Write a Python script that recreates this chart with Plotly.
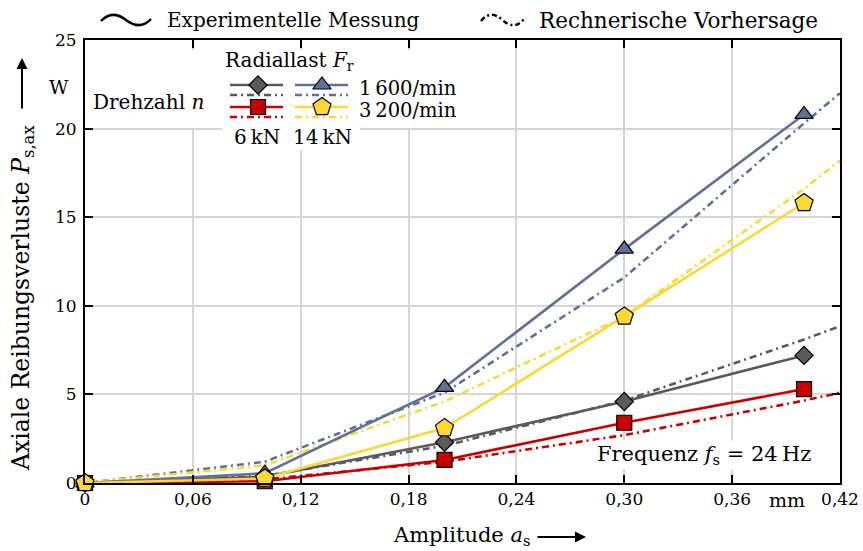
import plotly.graph_objects as go

# Messpunkte (Amplitude in mm, Reibungsverluste in W)
amplitude = [0.0, 0.1, 0.2, 0.3, 0.4]
mess_6kN_1600 = [0.0, 0.35, 2.3, 4.6, 7.2]
mess_14kN_1600 = [0.0, 0.55, 5.4, 13.2, 20.8]
mess_6kN_3200 = [0.0, 0.1, 1.3, 3.4, 5.3]
mess_14kN_3200 = [0.0, 0.25, 3.1, 9.4, 15.8]

# Rechnerische Vorhersage
amplitude_rechnung = [0.0, 0.1, 0.2, 0.3, 0.4, 0.42]
rech_6kN_1600 = [0.0, 0.4, 2.1, 4.65, 8.1, 8.85]
rech_14kN_1600 = [0.0, 1.2, 5.1, 11.6, 20.3, 22.0]
rech_6kN_3200 = [0.0, 0.2, 1.2, 2.7, 4.65, 5.1]
rech_14kN_3200 = [0.0, 1.0, 4.6, 9.4, 16.6, 18.2]

x_tickvals = [0, 0.06, 0.12, 0.18, 0.24, 0.30, 0.36, 0.42]
x_ticktext = ["0", "0,06", "0,12", "0,18", "0,24", "0,30", "0,36", "0,42"]
y_tickvals = [0, 5, 10, 15, 20, 25]
y_ticktext = ["0", "5", "10", "15", "20", "25"]

GRAU = "#5a5a5a"
BLAU = "#5f7199"
ROT = "#c80000"
GELB = "#fdd835"
DASHDOT = "7px,4px,2px,4px"
FONT = "DejaVu Serif"

# Plotbereich in Pixeln (für Beschriftungen außerhalb der Achsen)
W, H = 863, 551
L, R, T, B = 85, 23, 40, 68
PW, PH = W - L - R, H - T - B


def px(xp):
    return (xp - L) / PW


def py(yp):
    return (H - B - yp) / PH


serien = [
    (mess_6kN_1600, rech_6kN_1600, GRAU, "diamond", 14),
    (mess_14kN_1600, rech_14kN_1600, BLAU, "triangle-up", 16),
    (mess_6kN_3200, rech_6kN_3200, ROT, "square", 15),
    (mess_14kN_3200, rech_14kN_3200, GELB, "pentagon", 19),
]

fig = go.Figure()

for _, rech, farbe, _, _ in serien:
    fig.add_trace(go.Scatter(
        x=amplitude_rechnung, y=rech, mode="lines",
        line=dict(color=farbe, width=2.6, dash=DASHDOT),
        hoverinfo="skip",
    ))

for mess, _, farbe, symbol, groesse in serien:
    fig.add_trace(go.Scatter(
        x=amplitude, y=mess, mode="lines+markers",
        line=dict(color=farbe, width=2.6),
        marker=dict(symbol=symbol, size=groesse, color=farbe,
                    line=dict(color="black", width=1.2)),
        cliponaxis=False,
    ))

# Weißer Hintergrund der Legende im Diagramm (auf einer 0..1-Hilfsachse)
kasten_x = [88, 478, 478, 360, 360, 222, 222, 88, 88]
kasten_y = [50, 50, 128, 128, 150, 150, 128, 128, 50]
fig.add_trace(go.Scatter(
    x=[px(v) for v in kasten_x], y=[py(v) for v in kasten_y],
    mode="lines", fill="toself", fillcolor="white",
    line=dict(width=0, color="white"),
    xaxis="x2", yaxis="y2", hoverinfo="skip",
))

# Legendenzeichen
zeilen_y = [85, 95, 107, 117]
spalten = [(230, 283, 258), (295, 348, 322)]
legende = [
    (0, 0, GRAU, "solid", "diamond", 14),
    (0, 1, GRAU, DASHDOT, None, 0),
    (1, 0, BLAU, "solid", "triangle-up", 16),
    (1, 1, BLAU, DASHDOT, None, 0),
    (0, 2, ROT, "solid", "square", 15),
    (0, 3, ROT, DASHDOT, None, 0),
    (1, 2, GELB, "solid", "pentagon", 19),
    (1, 3, GELB, DASHDOT, None, 0),
]
for sp, ze, farbe, strich, symbol, groesse in legende:
    x0, x1, xm = spalten[sp]
    yy = py(zeilen_y[ze])
    fig.add_trace(go.Scatter(
        x=[px(x0), px(x1)], y=[yy, yy], mode="lines",
        line=dict(color=farbe, width=2.6, dash=strich),
        xaxis="x2", yaxis="y2", hoverinfo="skip",
    ))
    if symbol:
        fig.add_trace(go.Scatter(
            x=[px(xm)], y=[yy], mode="markers",
            marker=dict(symbol=symbol, size=groesse, color=farbe,
                        line=dict(color="black", width=1.2)),
            xaxis="x2", yaxis="y2", cliponaxis=False, hoverinfo="skip",
        ))

achse = dict(showline=True, linecolor="black", linewidth=2, mirror="ticks",
             ticks="inside", ticklen=8, tickwidth=1.5, tickcolor="black",
             showgrid=True, gridcolor="#d6d6d6", gridwidth=1.5, zeroline=False,
             automargin=False,
             tickfont=dict(family=FONT, size=17, color="black"))

fig.update_layout(
    width=W, height=H,
    margin=dict(l=L, r=R, t=T, b=B, autoexpand=False),
    plot_bgcolor="white", paper_bgcolor="white",
    showlegend=False,
    font=dict(family=FONT, size=20, color="black"),
    xaxis=dict(range=[0, 0.42], tickvals=x_tickvals, ticktext=x_ticktext,
               ticklabelstandoff=0, **achse),
    yaxis=dict(range=[0, 25], tickvals=y_tickvals, ticktext=y_ticktext,
               ticklabelstandoff=3, **achse),
    xaxis2=dict(overlaying="x", range=[0, 1], visible=False, fixedrange=True),
    yaxis2=dict(overlaying="y", range=[0, 1], visible=False, fixedrange=True),
)


def welle(x0, x1, y):
    # Tilde-förmiges Legendenzeichen aus zwei kubischen Bögen
    w = x1 - x0
    a = (x0, y + 1)
    m = (x0 + 0.5 * w, y)
    e = (x1, y - 1)
    c1 = (x0 + 0.15 * w, y - 7)
    c2 = (x0 + 0.32 * w, y - 7)
    c3 = (x0 + 0.68 * w, y + 7)
    c4 = (x0 + 0.85 * w, y + 7)
    pts = [a, c1, c2, m, c3, c4, e]
    p = [f"{px(q[0]):.5f},{py(q[1]):.5f}" for q in pts]
    return f"M{p[0]} C{p[1]} {p[2]} {p[3]} C{p[4]} {p[5]} {p[6]}"


fig.update_layout(shapes=[
    dict(type="path", xref="paper", yref="paper", path=welle(101, 151, 20),
         line=dict(color="black", width=2.5)),
    dict(type="path", xref="paper", yref="paper", path=welle(481, 524, 20),
         line=dict(color="black", width=2.5, dash="5px,3px,2px,3px")),
])


def text(t, x, y, xanchor="center", size=20, **kw):
    return dict(text=t, x=px(x), y=py(y), xref="paper", yref="paper",
                showarrow=False, xanchor=xanchor, yanchor="middle",
                font=dict(family=FONT, size=size, color="black"), **kw)


annotations = [
    text("Experimentelle Messung", 165, 20, xanchor="left", size=20),
    text("Rechnerische Vorhersage", 537, 20, xanchor="left", size=21.5),
    text("Radiallast <i>F</i><sub>r</sub>", 289, 61),
    text("Drehzahl <i>n</i>", 91, 102, xanchor="left"),
    text("1\u2009600/min", 357, 88, xanchor="left", size=19.5),
    text("3\u2009200/min", 357, 111, xanchor="left", size=19.5),
    text("6\u2009kN", 257, 137),
    text("14\u2009kN", 322, 137),
    text("Frequenz <i>f</i><sub>s</sub> = 24\u2009Hz", 704, 455, size=21,
         bgcolor="white"),
    text("W", 59, 87, size=19),
    text("mm", 787, 500, size=19),
    text("Amplitude <i>a</i><sub>s</sub>", 462, 536, size=21),
    text("Axiale Reibungsverluste <i>P</i><sub>s,ax</sub>", 22, 298,
         size=23.5, textangle=-90),
    dict(x=px(586), y=py(537), xref="paper", yref="paper", text="",
         showarrow=True, ax=-50, ay=0, arrowhead=2, arrowsize=1.1,
         arrowwidth=2, arrowcolor="black"),
    dict(x=px(22), y=py(58), xref="paper", yref="paper", text="",
         showarrow=True, ax=0, ay=52, arrowhead=2, arrowsize=1.1,
         arrowwidth=2, arrowcolor="black"),
]
fig.update_layout(annotations=annotations)

fig.write_html("out.html")
